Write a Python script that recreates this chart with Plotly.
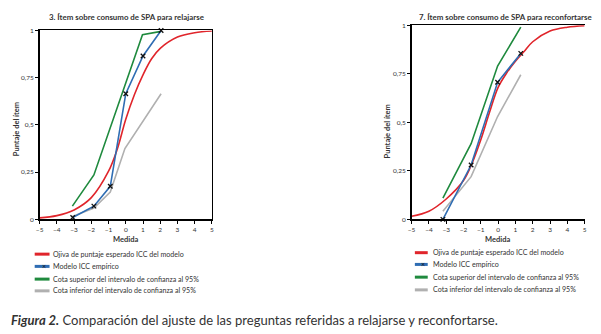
import plotly.graph_objects as go

# ---------------- data ----------------
medida_ticks = [-5, -4, -3, -2, -1, 0, 1, 2, 3, 4, 5]
puntaje_tickvals = [0, 0.25, 0.5, 0.75, 1]
puntaje_ticktext = ["0", "0,25", "0,5", "0,75", "1"]

# Left chart: 3. Ítem sobre consumo de SPA para relajarse
left_ojiva_x = [-5, -4, -3, -2, -1, -0.5, 0, 0.5, 1, 1.5, 2, 3, 4, 5]
left_ojiva_y = [0.008, 0.02, 0.05, 0.115, 0.255, 0.37, 0.53, 0.66, 0.765, 0.85, 0.905, 0.965, 0.988, 0.997]
left_emp_x = [-3.08, -1.85, -0.9, 0.0, 1.0, 2.05]
left_emp_y = [0.01, 0.07, 0.175, 0.665, 0.865, 1.0]
left_sup_x = [-3.1, -1.85, 0.97, 2.05]
left_sup_y = [0.07, 0.235, 0.977, 0.995]
left_inf_x = [-3.1, -1.85, -0.9, -0.05, 2.05]
left_inf_y = [0.015, 0.06, 0.145, 0.375, 0.665]

# Right chart: 7. Ítem sobre consumo de SPA para reconfortarse
right_ojiva_x = [-5, -4, -3, -2, -1.5, -1, -0.5, 0, 0.5, 1, 1.5, 2, 3, 4, 5]
right_ojiva_y = [0.016, 0.042, 0.105, 0.2, 0.29, 0.41, 0.55, 0.68, 0.755, 0.815, 0.865, 0.915, 0.97, 0.99, 0.998]
right_emp_x = [-3.19, -1.56, -0.03, 1.31]
right_emp_y = [0.0, 0.28, 0.706, 0.855]
right_sup_x = [-3.19, -1.56, -0.03, 1.31]
right_sup_y = [0.11, 0.39, 0.79, 0.99]
right_inf_x = [-3.19, -1.56, -0.03, 1.31]
right_inf_y = [0.042, 0.22, 0.53, 0.745]

titles = ["3. Ítem sobre consumo de SPA para relajarse",
          "7. Ítem sobre consumo de SPA para reconfortarse"]
legend_labels = ["Ojiva de puntaje esperado ICC del modelo",
                 "Modelo ICC empírico",
                 "Cota superior del intervalo de confianza al 95%",
                 "Cota inferior del intervalo de confianza al 95%"]
caption_bold = "Figura 2."
caption_rest = " Comparación del ajuste de las preguntas referidas a relajarse y reconfortarse."

# ---------------- style ----------------
W, H = 601, 334
RED = "#e0252b"
BLUE = "#2f6db3"
GREEN = "#1f8a3e"
GRAY = "#b0b0b0"
TXT = "#333333"
FONT = "Lato"

def px_x(p):
    return p / W

def px_y(p):
    return 1 - p / H

fig = go.Figure()

def add_series(xa, ya, oj_x, oj_y, emp_x, emp_y, sup_x, sup_y, inf_x, inf_y):
    fig.add_trace(go.Scatter(x=inf_x, y=inf_y, mode="lines", line=dict(color=GRAY, width=1.6),
                             xaxis=xa, yaxis=ya, showlegend=False, hoverinfo="skip"))
    fig.add_trace(go.Scatter(x=sup_x, y=sup_y, mode="lines", line=dict(color=GREEN, width=1.6),
                             xaxis=xa, yaxis=ya, showlegend=False, hoverinfo="skip"))
    fig.add_trace(go.Scatter(x=oj_x, y=oj_y, mode="lines", line=dict(color=RED, width=1.6, shape="spline", smoothing=1.0),
                             xaxis=xa, yaxis=ya, showlegend=False, hoverinfo="skip"))
    fig.add_trace(go.Scatter(x=emp_x, y=emp_y, mode="lines+markers", line=dict(color=BLUE, width=1.6),
                             marker=dict(symbol="x-thin", size=4.5, line=dict(color="#111111", width=1.3)),
                             xaxis=xa, yaxis=ya, showlegend=False, cliponaxis=False, hoverinfo="skip"))

add_series("x", "y", left_ojiva_x, left_ojiva_y, left_emp_x, left_emp_y,
           left_sup_x, left_sup_y, left_inf_x, left_inf_y)
add_series("x2", "y2", right_ojiva_x, right_ojiva_y, right_emp_x, right_emp_y,
           right_sup_x, right_sup_y, right_inf_x, right_inf_y)

axis_common = dict(showgrid=False, zeroline=False, showline=True, linecolor="black", linewidth=1.5,
                   ticks="outside", ticklen=3, tickwidth=1, tickcolor="black",
                   tickfont=dict(family=FONT, size=6.5, color=TXT))

xa_common = dict(axis_common, range=[-5, 5], tickvals=medida_ticks)
ya_common = dict(axis_common, range=[0, 1], tickvals=puntaje_tickvals, ticktext=puntaje_ticktext)

fig.update_layout(
    width=W, height=H,
    margin=dict(l=0, r=0, t=0, b=0),
    paper_bgcolor="white", plot_bgcolor="white",
    showlegend=False,
    xaxis=dict(xa_common, domain=[px_x(36), px_x(210)], anchor="y", mirror=True),
    yaxis=dict(ya_common, domain=[px_y(220), px_y(27)], anchor="x", mirror=True),
    xaxis2=dict(xa_common, domain=[px_x(411.7), px_x(586.5)], anchor="y2", mirror=True),
    yaxis2=dict(ya_common, domain=[px_y(220), px_y(21.7)], anchor="x2", mirror=False),
)

annotations = []
# chart titles
for cx, cy, t in [(124, 13, titles[0]), (507, 13, titles[1])]:
    annotations.append(dict(x=px_x(cx), y=px_y(cy), xref="paper", yref="paper", text="<b>" + t + "</b>",
                            showarrow=False, font=dict(family=FONT, size=7.9, color=TXT),
                            xanchor="center", yanchor="middle"))
# axis titles
for cx, cy in [(12, 128), (387, 130)]:
    annotations.append(dict(x=px_x(cx), y=px_y(cy), xref="paper", yref="paper", text="<b>Puntaje del ítem</b>",
                            showarrow=False, textangle=-90, font=dict(family=FONT, size=7.5, color=TXT),
                            xanchor="center", yanchor="middle"))
for cx, cy in [(123, 241), (498, 240.5)]:
    annotations.append(dict(x=px_x(cx), y=px_y(cy), xref="paper", yref="paper", text="<b>Medida</b>",
                            showarrow=False, font=dict(family=FONT, size=7.5, color=TXT),
                            xanchor="center", yanchor="middle", borderpad=0))

# legends (drawn manually)
shapes = []
colors = [RED, BLUE, GREEN, GRAY]
for (x0, x1, tx, rows) in [(31, 46, 47, [255.5, 268, 281, 293]),
                           (415, 428, 431, [254, 266, 279, 292])]:
    for i, (lab, col, ry) in enumerate(zip(legend_labels, colors, rows)):
        shapes.append(dict(type="line", xref="paper", yref="paper", x0=px_x(x0), x1=px_x(x1),
                           y0=px_y(ry), y1=px_y(ry), line=dict(color=col, width=3)))
        if i == 1:
            annotations.append(dict(x=px_x((x0 + x1) / 2 + 2), y=px_y(ry), xref="paper", yref="paper",
                                    text="×", showarrow=False, font=dict(family=FONT, size=7, color="#111"),
                                    xanchor="center", yanchor="middle"))
        annotations.append(dict(x=px_x(tx), y=px_y(ry), xref="paper", yref="paper", text=lab,
                                showarrow=False, font=dict(family=FONT, size=7.1, color=TXT),
                                xanchor="left", yanchor="middle"))

# caption
annotations.append(dict(x=px_x(5), y=px_y(323), xref="paper", yref="paper",
                        text="<b><i>" + caption_bold + "</i></b>" + caption_rest,
                        showarrow=False, font=dict(family=FONT, size=13, color=TXT),
                        xanchor="left", yanchor="middle"))

fig.update_layout(annotations=annotations, shapes=shapes)
fig.write_html("out.html", config={"displayModeBar": False, "staticPlot": True},
               post_script="document.body.style.margin='0';document.body.style.padding='0';"
                           "document.documentElement.style.overflow='hidden';")
